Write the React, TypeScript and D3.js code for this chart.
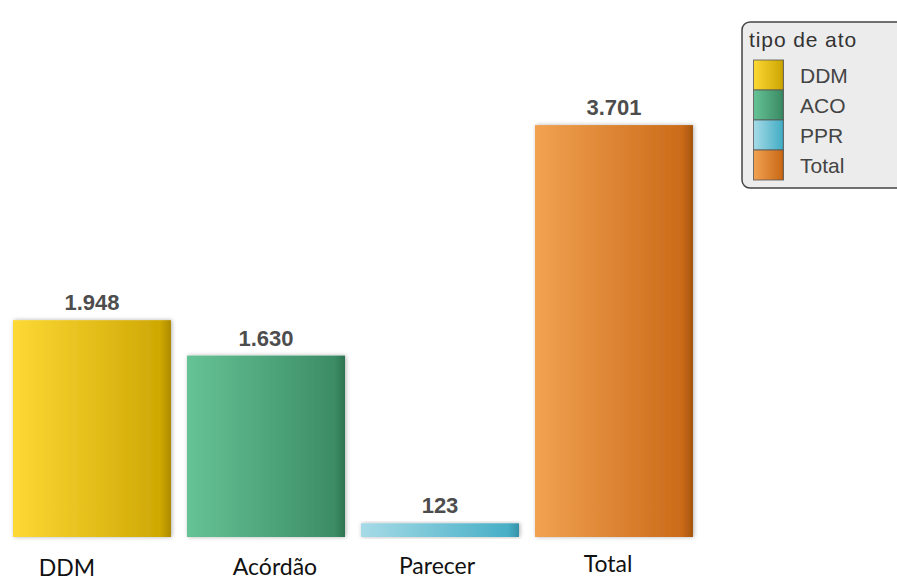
import React from "react";
import * as d3 from "d3";

const categories = ["DDM", "Acórdão", "Parecer", "Total"];
const legendKeys = ["DDM", "ACO", "PPR", "Total"];
const values = [1948, 1630, 123, 3701];
const valueLabels = ["1.948", "1.630", "123", "3.701"];
const legendTitle = "tipo de ato";

// gradient stops per series: [left, right, edge]
const palettes = [
  ["#fdd935", "#cfa804", "#ad8a00"],
  ["#66c396", "#3c8d66", "#2e7452"],
  ["#a6dbe7", "#47afc6", "#3592a8"],
  ["#f1a251", "#cb6b19", "#a4540e"],
];

// manual text-box nudges for category labels (dx, baseline y)
const labelNudge = [
  [-25, 576],
  [9, 575],
  [-3, 574],
  [-6, 572],
];

export default function App() {
  const W = 897;
  const H = 581;
  const baseline = 537;
  const x = d3
    .scaleBand<string>()
    .domain(categories)
    .range([5, 701])
    .paddingInner(16 / 174)
    .paddingOuter(8 / 174);
  const y = d3.scaleLinear().domain([0, 4000]).range([baseline, baseline - 4000 * 0.1113]);

  return (
    <svg
      width={W}
      height={H}
      style={{ position: "absolute", left: 0, top: 0, background: "#fff" }}
    >
      <defs>
        {palettes.map((p, i) => (
          <linearGradient key={i} id={`g${i}`} x1="0" x2="1" y1="0" y2="0">
            <stop offset="0" stopColor={p[0]} />
            <stop offset="0.93" stopColor={p[1]} />
            <stop offset="1" stopColor={p[2]} />
          </linearGradient>
        ))}
        <filter id="sh" x="-10%" y="-10%" width="120%" height="120%">
          <feDropShadow dx="1" dy="0" stdDeviation="2" floodColor="#000" floodOpacity="0.3" />
        </filter>
      </defs>

      {values.map((v, i) => {
        const c = categories[i];
        const bx = x(c)!;
        const bw = x.bandwidth();
        const top = y(v);
        return (
          <g key={c}>
            <rect
              x={bx}
              y={top}
              width={bw}
              height={baseline - top}
              fill={`url(#g${i})`}
              filter="url(#sh)"
            />
            <text
              x={bx + bw / 2}
              y={top - 10}
              textAnchor="middle"
              fontFamily="Liberation Sans, Arial, sans-serif"
              fontWeight="bold"
              fontSize={22}
              fill="#4d4d4d"
            >
              {valueLabels[i]}
            </text>
            <text
              x={bx + bw / 2 + labelNudge[i][0]}
              y={labelNudge[i][1]}
              textAnchor="middle"
              fontFamily="Lato, Calibri, sans-serif"
              fontSize={23}
              fill="#111"
            >
              {c}
            </text>
          </g>
        );
      })}

      <g>
        <rect
          x={742}
          y={22}
          width={170}
          height={166}
          rx={8}
          ry={8}
          fill="#ececec"
          stroke="#444"
          strokeWidth={1.5}
        />
        <text
          x={749}
          y={47}
          fontFamily="Liberation Sans, Arial, sans-serif"
          fontSize={21}
          letterSpacing={0.9}
          fill="#333"
        >
          {legendTitle}
        </text>
        {legendKeys.map((k, i) => (
          <g key={k}>
            <rect
              x={753.5}
              y={60 + i * 30}
              width={30}
              height={30}
              fill={`url(#g${i})`}
              stroke="#555"
              strokeOpacity={0.8}
              strokeWidth={1}
            />
            <text
              x={800}
              y={83 + i * 30}
              fontFamily="Liberation Sans, Arial, sans-serif"
              fontSize={21}
              fill="#444"
            >
              {k}
            </text>
          </g>
        ))}
      </g>
    </svg>
  );
}
